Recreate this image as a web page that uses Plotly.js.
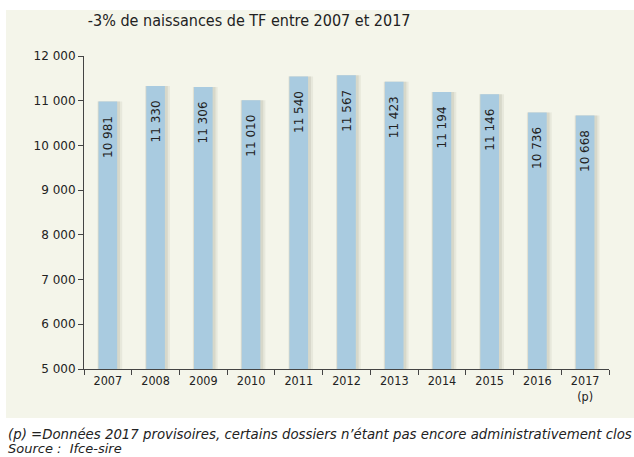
<!DOCTYPE html>
<html><head><meta charset="utf-8">
<script src="https://cdn.plot.ly/plotly-3.0.1.min.js"></script>
<style>body{margin:0;padding:0;background:#fff}#chart{width:634px;height:457px}</style>
</head><body><div id="chart"></div>
<script>
const years = ['2007','2008','2009','2010','2011','2012','2013','2014','2015','2016','2017'];
const tickLabels = ['2007','2008','2009','2010','2011','2012','2013','2014','2015','2016','2017<br>(p)'];
const births = [10981, 11330, 11306, 11010, 11540, 11567, 11423, 11194, 11146, 10736, 10668];
const yTicks = [5000, 6000, 7000, 8000, 9000, 10000, 11000, 12000];
const yTickLabels = ['5 000', '6 000', '7 000', '8 000', '9 000', '10 000', '11 000', '12 000'];

const font = 'DejaVu Sans Condensed, DejaVu Sans, sans-serif';
const heights = births.map(v => v - 5000);
function shadowTrace(color, width, offset) {
  return {type: 'bar', x: years, y: heights, base: 5000,
    marker: {color: color, line: {width: 0}}, width: width, offset: offset,
    hoverinfo: 'skip', showlegend: false};
}
const bars = {
  type: 'bar', x: years, y: heights, base: 5000,
  customdata: births,
  marker: {color: '#a9cbe0', line: {width: 0}},
  width: 0.39, offset: -0.195,
  texttemplate: '%{customdata:,d}   ',
  textposition: 'inside', insidetextanchor: 'end', textangle: -90,
  constraintext: 'none',
  textfont: {family: 'DejaVu Sans, sans-serif', size: 12, color: '#222'},
  showlegend: false
};
const layout = {
  width: 634, height: 457,
  margin: {l: 84, r: 25, t: 56, b: 88},
  paper_bgcolor: '#ffffff', plot_bgcolor: 'rgba(0,0,0,0)',
  separators: ', ',
  barmode: 'overlay',
  font: {family: font, size: 12, color: '#222'},
  title: {text: '-3% de naissances de TF entre 2007 et 2017', x: 0.393, xanchor: 'center', y: 0.955, yanchor: 'middle',
          font: {family: font, size: 16, color: '#222'}},
  xaxis: {type: 'category', tickvals: years, ticktext: tickLabels, showline: true, linecolor: '#444', linewidth: 1,
          ticks: 'outside', tickson: 'boundaries', ticklen: 5, tickcolor: '#444', showgrid: false,
          tickfont: {family: font, size: 12.5, color: '#222'}, range: [-0.5, 10.5], fixedrange: true},
  yaxis: {range: [5000, 12000], tickvals: yTicks, ticktext: yTickLabels, showline: true, linecolor: '#444', linewidth: 1,
          ticks: 'outside', ticklen: 5, tickcolor: '#444', showgrid: false, zeroline: false,
          tickfont: {family: 'DejaVu Sans, sans-serif', size: 12, color: '#222'}},
  shapes: [{type: 'rect', xref: 'paper', yref: 'paper', x0: -0.1486, x1: 1.0476, y0: -0.1565, y1: 1.147,
            fillcolor: '#f4f5ea', line: {width: 0}, layer: 'below'}],
  annotations: [
    {xref: 'paper', yref: 'paper', x: -0.1486, y: -0.208, xanchor: 'left', yanchor: 'middle', showarrow: false, align: 'left',
     text: '<i>(p) =Données 2017 provisoires, certains dossiers n\u2019étant pas encore administrativement clos</i>',
     font: {family: 'DejaVu Sans, sans-serif', size: 13.3, color: '#222'}},
    {xref: 'paper', yref: 'paper', x: -0.1486, y: -0.253, xanchor: 'left', yanchor: 'middle', showarrow: false, align: 'left',
     text: '<i>Source :  Ifce-sire</i>',
     font: {family: 'DejaVu Sans, sans-serif', size: 13, color: '#222'}}
  ]
};
Plotly.newPlot('chart', [
  shadowTrace('rgba(170,170,150,0.16)', 0.52, -0.22),
  shadowTrace('rgba(160,160,140,0.22)', 0.46, -0.205),
  bars], layout, {displayModeBar: false, staticPlot: true});
</script></body></html>
